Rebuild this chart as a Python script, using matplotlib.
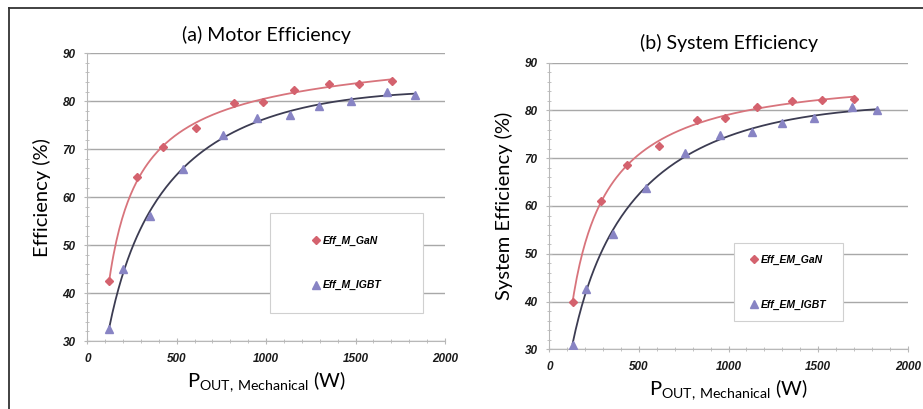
import numpy as np
import matplotlib
matplotlib.use("Agg")
import matplotlib.pyplot as plt
from matplotlib.lines import Line2D
from matplotlib.patches import Rectangle
from matplotlib.ticker import MultipleLocator

plt.rcParams['font.family'] = ['Lato', 'DejaVu Sans']
plt.rcParams['mathtext.fontset'] = 'custom'
plt.rcParams['mathtext.rm'] = 'Lato'

# (a) motor efficiency
p_gan_a = [123, 280, 425, 608, 820, 981, 1156, 1354, 1521, 1704]
eff_gan_a = [42.6, 64.1, 70.5, 74.5, 79.7, 79.9, 82.3, 83.5, 83.7, 84.2]
p_igbt_a = [123, 201, 351, 533, 757, 947, 1133, 1298, 1473, 1678, 1833]
eff_igbt_a = [32.6, 45.1, 56.1, 65.8, 73.0, 76.6, 77.1, 79.0, 80.1, 82.0, 81.3]

# (b) system efficiency
p_gan_b = [130, 287, 432, 612, 822, 980, 1157, 1352, 1520, 1700]
eff_gan_b = [39.9, 61.1, 68.5, 72.6, 78.0, 78.4, 80.8, 82.0, 82.2, 82.5]
p_igbt_b = [130, 203, 357, 538, 759, 953, 1131, 1297, 1477, 1688, 1830]
eff_igbt_b = [30.9, 42.7, 54.1, 63.8, 71.0, 74.9, 75.5, 77.4, 78.4, 80.7, 80.0]

GAN_MK = '#d4626e'
GAN_LN = '#d8747c'
IGBT_MK = '#8884c4'
IGBT_LN = '#3c3c52'
SMALL = {'family': 'Liberation Sans', 'style': 'italic', 'weight': 'bold'}

W, H = 923, 409
fig = plt.figure(figsize=(W / 100, H / 100), dpi=100)

# outer frame (top and left edges)
fig.add_artist(Line2D([9 / W, 1], [1 - 8 / H, 1 - 8 / H], transform=fig.transFigure, color='#333333', lw=1.3))
fig.add_artist(Line2D([9 / W, 9 / W], [0, 1 - 8 / H], transform=fig.transFigure, color='#333333', lw=1.3))


def trend(x, y):
    lx = np.log(x)
    c = np.polyfit(lx, y, 3)
    xs = np.linspace(min(x), max(x), 200)
    return xs, np.polyval(c, np.log(xs))


def panel(rect, xg, yg, xi, yi, labels, ylabel, title, title_y, leg_box):
    ax = fig.add_axes(rect)
    ax.set_xlim(0, 2000)
    ax.set_ylim(30, 90)
    ax.xaxis.set_minor_locator(MultipleLocator(100))
    ax.yaxis.set_minor_locator(MultipleLocator(2))
    ax.grid(axis='y', color='#a8a8a8', lw=1.0)
    ax.set_axisbelow(True)
    for s in ['top', 'right']:
        ax.spines[s].set_visible(False)
    for s in ['left', 'bottom']:
        ax.spines[s].set_color('#b8b8b8')
    ax.tick_params(which='both', colors='#b8b8b8', labelcolor='#1a1a1a', direction='inout')
    ax.tick_params(which='major', length=5, pad=6)
    ax.tick_params(which='minor', length=3)
    ax.set_xticks(range(0, 2001, 500))
    ax.set_xticklabels([str(v) for v in range(0, 2001, 500)], fontdict=SMALL, fontsize=8.5)
    ax.set_yticks(range(30, 91, 10))
    ax.set_yticklabels([str(v) for v in range(30, 91, 10)], fontdict=SMALL, fontsize=8.5)

    xs, ys = trend(xg, yg)
    ax.plot(xs, ys, color=GAN_LN, lw=1.3, zorder=2)
    xs, ys = trend(xi, yi)
    ax.plot(xs, ys, color=IGBT_LN, lw=1.3, zorder=2)
    h1, = ax.plot(xg, yg, 'D', color=GAN_MK, ms=4.5, zorder=3, label=labels[0])
    h2, = ax.plot(xi, yi, '^', color=IGBT_MK, ms=6, zorder=3, label=labels[1])

    bx, by, bw, bh = leg_box
    ax.add_patch(Rectangle((bx, by), bw, bh, transform=ax.transAxes, facecolor='white',
                           edgecolor='#d0d0d0', lw=0.8, zorder=4))
    leg = ax.legend(handles=[h1, h2], loc='center', bbox_to_anchor=(bx + bw / 2, by + bh / 2),
                    frameon=False, handlelength=0.8, handletextpad=0.3, labelspacing=3.3,
                    prop={'family': 'Liberation Sans', 'style': 'italic', 'weight': 'bold', 'size': 7.5})
    leg.set_zorder(5)

    ax.set_ylabel(ylabel, fontsize=14.5, labelpad=8)
    ax.set_xlabel(r'$\mathrm{P_{OUT,\!\ Mechanical}}$ (W)', fontsize=14.5, labelpad=3)
    ax.set_title(title, fontsize=14, y=title_y)
    return ax


panel([87.3 / W, 1 - 341 / H, (445 - 87.3) / W, (341 - 53.3) / H],
      p_gan_a, eff_gan_a, p_igbt_a, eff_igbt_a,
      ['Eff_M_GaN', 'Eff_M_IGBT'], 'Efficiency (%)', '(a) Motor Efficiency', 1.015,
      (0.511, 0.097, 0.427, 0.348))

panel([549.3 / W, 1 - 349.3 / H, (907.7 - 549.3) / W, (349.3 - 62.7) / H],
      p_gan_b, eff_gan_b, p_igbt_b, eff_igbt_b,
      ['Eff_EM_GaN', 'Eff_EM_IGBT'], 'System Efficiency (%)', '(b) System Efficiency', 1.02,
      (0.514, 0.098, 0.305, 0.272))

fig.savefig('out.png', dpi=100, facecolor='white')
